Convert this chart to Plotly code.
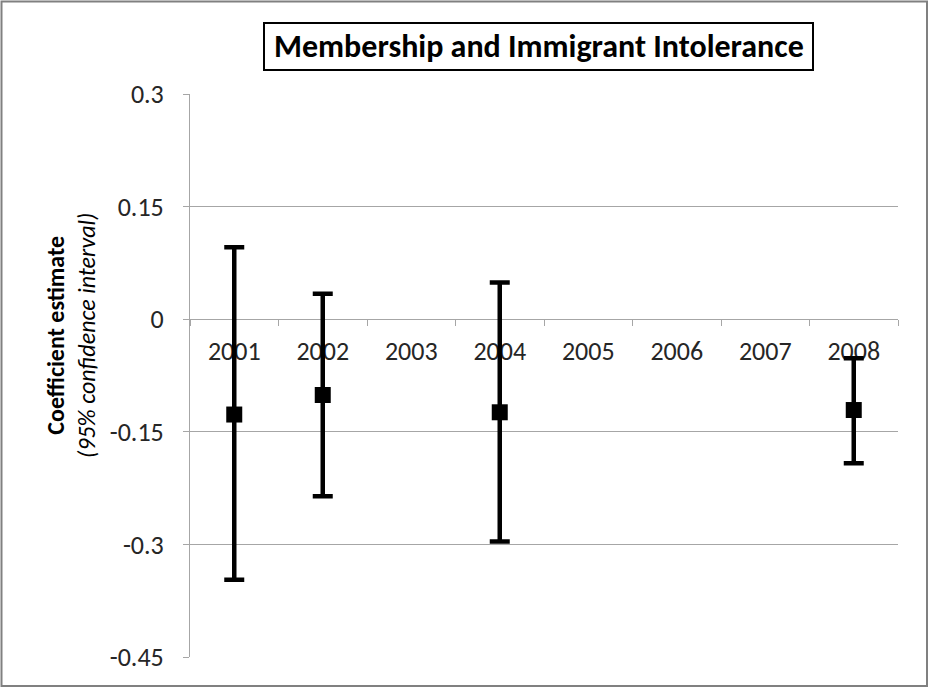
import plotly.graph_objects as go

# Survey years shown on the category axis
years = ["2001", "2002", "2003", "2004", "2005", "2006", "2007", "2008"]

# Years with an estimate, point estimates and 95% confidence bounds
est_years = ["2001", "2002", "2004", "2008"]
estimate = [-0.127, -0.101, -0.124, -0.121]
ci_lower = [-0.347, -0.236, -0.296, -0.192]
ci_upper = [0.096, 0.034, 0.049, -0.052]

y_ticks = [0.3, 0.15, 0, -0.15, -0.3, -0.45]
y_tick_text = ["0.3", "0.15", "0", "-0.15", "-0.3", "-0.45"]
y_range = [-0.45, 0.3]

W, H = 930, 688
L, R, T, B = 190, 32, 94, 31
PW, PH = W - L - R, H - T - B

FONT = "Carlito, Calibri, Open Sans, sans-serif"


def px_x(px):
    return (px - L) / PW


def px_y(py):
    return (H - B - py) / PH


err_plus = [u - e for u, e in zip(ci_upper, estimate)]
err_minus = [e - lo for e, lo in zip(estimate, ci_lower)]

fig = go.Figure(
    go.Scatter(
        x=est_years,
        y=estimate,
        mode="markers",
        marker=dict(symbol="square", size=16, color="black"),
        error_y=dict(
            type="data",
            symmetric=False,
            array=err_plus,
            arrayminus=err_minus,
            color="black",
            thickness=4.5,
            width=10,
        ),
        showlegend=False,
    )
)

# x axis crosses the y axis at zero
zero_pos = (0 - y_range[0]) / (y_range[1] - y_range[0])

fig.update_layout(
    width=W,
    height=H,
    margin=dict(l=L, r=R, t=T, b=B, pad=0),
    paper_bgcolor="white",
    plot_bgcolor="white",
    font=dict(family=FONT, color="#262626"),
    xaxis=dict(
        type="category",
        categoryorder="array",
        categoryarray=years,
        range=[-0.5, len(years) - 0.5],
        anchor="free",
        position=zero_pos,
        showline=True,
        linecolor="#a6a6a6",
        linewidth=1,
        ticks="outside",
        tickson="boundaries",
        ticklen=6,
        tickcolor="#a6a6a6",
        showgrid=False,
        tickfont=dict(size=26, color="#262626"),
        ticklabelstandoff=9,
        layer="below traces",
        fixedrange=True,
    ),
    yaxis=dict(
        range=y_range,
        tickvals=y_ticks,
        ticktext=y_tick_text,
        showline=True,
        linecolor="#a6a6a6",
        linewidth=1,
        ticks="outside",
        ticklen=6,
        tickcolor="#a6a6a6",
        showgrid=True,
        gridcolor="#a6a6a6",
        gridwidth=1,
        zeroline=False,
        tickfont=dict(size=26, color="#262626"),
        ticklabelstandoff=14,
        layer="below traces",
        fixedrange=True,
    ),
    shapes=[
        # outer frame of the chart
        dict(type="rect", xref="paper", yref="paper",
             x0=px_x(1.5), x1=px_x(927), y0=px_y(1.5), y1=px_y(686),
             line=dict(color="#808080", width=2), layer="above"),
        # box around the title
        dict(type="rect", xref="paper", yref="paper",
             x0=px_x(264), x1=px_x(813), y0=px_y(23), y1=px_y(70),
             line=dict(color="black", width=2), layer="above"),
    ],
    annotations=[
        dict(text="<b>Membership and Immigrant Intolerance</b>",
             xref="paper", yref="paper", x=px_x(538.5), y=px_y(46.5),
             xanchor="center", yanchor="middle", showarrow=False,
             font=dict(size=32, color="black", family=FONT)),
        dict(text="<b>Coefficient estimate</b><br><i>(95% confidence interval)</i>",
             xref="paper", yref="paper", x=px_x(71), y=px_y(336),
             xanchor="center", yanchor="middle", showarrow=False,
             textangle=-90,
             font=dict(size=24, color="black", family=FONT)),
    ],
)

fig.write_html("out.html")
